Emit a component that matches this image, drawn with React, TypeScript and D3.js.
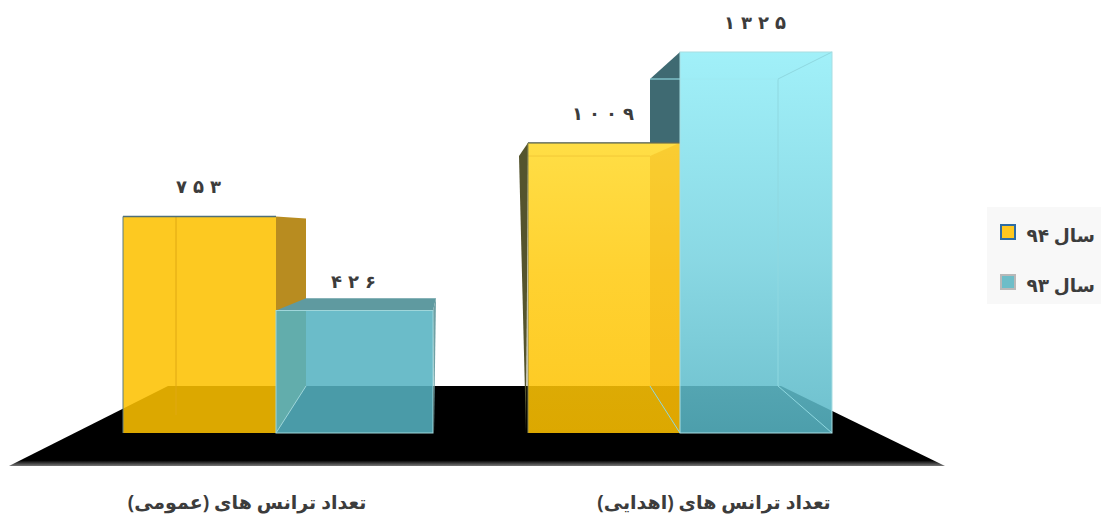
import React from "react";
import * as d3 from "d3";

const categories = ["تعداد ترانس های (عمومی)", "تعداد ترانس های (اهدایی)"];
const seriesNames = ["سال ۹۴", "سال ۹۳"];
const year94 = [753, 1009];
const year93 = [426, 1325];

const W = 1101, H = 516;
const fa = (v: number) => String(v).replace(/\d/g, (d) => "۰۱۲۳۴۵۶۷۸۹"[+d]);

const BASE_F = 433, BASE_B = 386;
const yFront = d3.scaleLinear().domain([0, 1325]).range([BASE_F, 52]);
const yBack = d3.scaleLinear().domain([0, 1325]).range([402, 79]);
const slots = [0, 1, 2, 3, 4, 5];
// slot 0,1,2 = first group's edges; 3,4,5 = second group's edges
const xFront = d3.scaleLinear().domain(slots).range([123, 276, 433, 528, 680, 832]);
const xBack = d3.scaleLinear().domain(slots).range([176, 306, 436, 519, 650, 778]);
const xCat = d3.scalePoint<string>().domain(categories).range([247, 714]);

const line = d3.line<[number, number]>();
const poly = (pts: [number, number][]) => line(pts) + "Z";

const Y_A = "#FDC100", B_A = "#55B2C1", EDGE = "#9fd6da";
const DIGIT_STEP = 17;

function Bar({ v, s, fill, opacity = 0.87 }: { v: number; s: number; fill: string; opacity?: number }) {
  return (
    <rect x={xFront(s)} y={yFront(v)} width={xFront(s + 1) - xFront(s)} height={BASE_F - yFront(v)} fill={fill} fillOpacity={opacity} />
  );
}

export default function App() {
  const [y1, y2] = year94;
  const [b1, b2] = year93;
  const ft = yFront, bt = yBack;
  return (
    <svg width={W} height={H} style={{ position: "absolute", left: 0, top: 0, background: "#fff" }}>
      <defs>
        <linearGradient id="yg" x1="0" x2="0" y1="0" y2="1">
          <stop offset="0" stopColor="#FFD92A" />
          <stop offset="0.45" stopColor="#FFCB12" />
          <stop offset="1" stopColor="#FDC100" />
        </linearGradient>
        <linearGradient id="bg" x1="0" x2="0" y1="0" y2="1">
          <stop offset="0" stopColor="#93EEF8" />
          <stop offset="0.55" stopColor="#78D2DF" />
          <stop offset="1" stopColor="#58B6C5" />
        </linearGradient>
        <linearGradient id="floorShade" x1="0" x2="0" y1="0" y2="1">
          <stop offset="0" stopColor="#000" />
          <stop offset="0.93" stopColor="#000" />
          <stop offset="1" stopColor="#777" />
        </linearGradient>
      </defs>

      {/* floor */}
      <path d={poly([[9, 466], [168, BASE_B], [781, BASE_B], [945, 466]])} fill="url(#floorShade)" />

      {/* first group: year 94 */}
      <path d={poly([[xFront(1), ft(y1)], [xBack(1), bt(y1)], [xBack(1), BASE_B], [xFront(1), BASE_F]])} fill="#B88C20" />
      <Bar v={y1} s={0} fill={Y_A} />
      <line x1={xBack(0)} x2={xBack(0)} y1={ft(y1)} y2={BASE_F - 18} stroke="#E0A812" strokeWidth={1} />
      <line x1={xFront(0)} x2={xFront(1)} y1={ft(y1)} y2={ft(y1)} stroke="#4f6f78" strokeWidth={1.5} />
      <line x1={xFront(0)} x2={xFront(0)} y1={ft(y1)} y2={BASE_F} stroke="#5b7b80" strokeWidth={1} />

      {/* first group: year 93 */}
      <path d={poly([[xFront(1), ft(b1)], [xBack(1), bt(b1)], [xBack(2), bt(b1)], [xFront(2), ft(b1)]])} fill="#5F9AA0" />
      <path d={poly([[xFront(2), ft(b1)], [xBack(2), bt(b1)], [xFront(2) + 1, BASE_F]])} fill="#6FA0A4" />
      <Bar v={b1} s={1} fill={B_A} />
      <line x1={xFront(1)} x2={xBack(1)} y1={BASE_F} y2={BASE_B} stroke={EDGE} strokeWidth={1} />
      <rect x={xFront(1)} y={ft(b1)} width={xFront(2) - xFront(1)} height={BASE_F - ft(b1)} fill="none" stroke={EDGE} strokeWidth={1} />

      {/* second group: year 93 wall seen behind year 94 */}
      <path d={poly([[xBack(4), bt(b2)], [xFront(4), ft(b2)], [xFront(4), ft(y2)], [xBack(4), ft(y2)]])} fill="#3F6A72" />
      {/* second group: year 94 */}
      <path d={poly([[xFront(3), ft(y2)], [xBack(3), bt(y2)], [xFront(3) - 2, BASE_F]])} fill="#54542E" />
      <rect x={xFront(3)} y={ft(y2)} width={xFront(4) - xFront(3)} height={BASE_F - ft(y2)} fill="url(#yg)" fillOpacity={0.87} />
      <path d={poly([[xBack(4), bt(y2)], [xFront(4), ft(y2)], [xFront(4), BASE_F], [xBack(4), BASE_B]])} fill="#E8A000" fillOpacity={0.28} />
      <line x1={xFront(3)} x2={xBack(4)} y1={bt(y2)} y2={bt(y2)} stroke="#F2C838" strokeWidth={1} />
      <line x1={xFront(3)} x2={xFront(4)} y1={ft(y2)} y2={ft(y2)} stroke="#4d5a50" strokeWidth={1.2} />
      <line x1={xFront(3)} x2={xFront(3)} y1={ft(y2)} y2={BASE_F} stroke="#8a8a50" strokeWidth={1} />

      {/* second group: year 93 */}
      <rect x={xFront(4)} y={ft(b2)} width={xFront(5) - xFront(4)} height={BASE_F - ft(b2)} fill="url(#bg)" fillOpacity={0.87} />
      <line x1={xBack(5)} x2={xBack(5)} y1={bt(b2)} y2={BASE_B} stroke="#8fd8e0" strokeWidth={1} />
      <line x1={xBack(4)} x2={xBack(5)} y1={bt(b2)} y2={bt(b2)} stroke="#9DEAF2" strokeWidth={1} />
      <line x1={xBack(5)} x2={xFront(5)} y1={bt(b2)} y2={ft(b2)} stroke="#8fd8e0" strokeWidth={1} />
      <line x1={xBack(5)} x2={xFront(5)} y1={BASE_B} y2={BASE_F} stroke="#8fd8e0" strokeWidth={1} />
      <line x1={xBack(4)} x2={xFront(4)} y1={BASE_B} y2={BASE_F} stroke="#8fd8e0" strokeWidth={1} />
      <rect x={xFront(4)} y={ft(b2)} width={xFront(5) - xFront(4)} height={BASE_F - ft(b2)} fill="none" stroke="#A8DDE2" strokeWidth={1} />

      {/* value labels */}
      <g fontFamily="'DejaVu Sans'" fontWeight="bold" fontSize={18} fill="#3c3c3c" textAnchor="middle">
        {[[y1, 0], [b1, 1], [y2, 3], [b2, 4]].map(([v, s]) => {
          const digits = fa(v).split("");
          const cx = (xFront(s) + xFront(s + 1)) / 2 - 1;
          return (
            <text key={s} y={ft(v) - 23} x={digits.map((_, i) => cx + (i - (digits.length - 1) / 2) * DIGIT_STEP).join(" ")}>{digits.join("")}</text>
          );
        })}
      </g>

      {/* category labels */}
      <g fontFamily="'Noto Sans', 'DejaVu Sans'" fontWeight="bold" fontSize={19} fill="#3c3c3c" textAnchor="middle" direction="rtl">
        {categories.map((c) => (
          <text key={c} x={xCat(c)} y={509}>{c}</text>
        ))}
      </g>

      {/* legend */}
      <rect x={987} y={207} width={114} height={97} fill="#F8F8F8" />
      {seriesNames.map((n, i) => (
        <g key={n} transform={`translate(0,${i * 50})`}>
          <rect x={1001} y={225} width={14} height={14} fill={i === 0 ? "#FFC820" : "#6DBDC8"} stroke={i === 0 ? "#2E6CA4" : "#B8B8B8"} strokeWidth={2} />
          <text x={1095} y={242} fontFamily="'Noto Sans', 'DejaVu Sans'" fontWeight="bold" fontSize={18.5} fill="#3c3c3c" textAnchor="start" direction="rtl">{n}</text>
        </g>
      ))}
    </svg>
  );
}
